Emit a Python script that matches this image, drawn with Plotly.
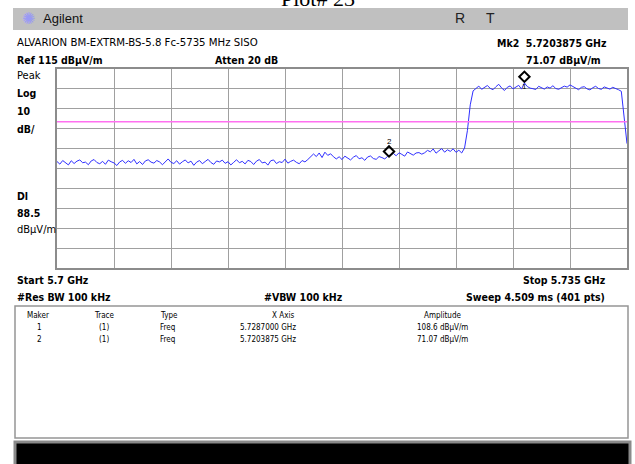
import numpy as np
import plotly.graph_objects as go

# ---------------- data ----------------
start_ghz = 5.700
stop_ghz = 5.735
ref_level = 115.0          # dBuV/m (top of screen)
db_per_div = 10.0
display_line = 88.5        # dBuV/m

level_dbuv = [
    68.5, 67.2, 69.0, 68.1, 66.8, 68.9, 67.5, 68.7, 69.3, 67.9,
    68.2, 66.9, 68.8, 69.5, 68.0, 67.4, 68.6, 67.1, 69.2, 68.4,
    67.8, 66.5, 68.3, 69.1, 67.6, 68.9, 68.0, 69.6, 67.3, 68.5,
    67.0, 68.8, 69.4, 68.2, 67.7, 69.0, 68.3, 66.9, 68.6, 69.8,
    68.1, 67.5, 68.9, 67.2, 68.4, 69.3, 67.8, 68.7, 66.6, 68.2,
    69.0, 67.4, 68.5, 69.6, 68.0, 67.1, 68.8, 68.3, 69.2, 67.6,
    68.4, 66.8, 68.1, 69.4, 67.9, 68.6, 67.3, 69.1, 68.5, 67.0,
    68.7, 69.5, 67.8, 68.2, 66.7, 68.9, 69.3, 67.5, 68.4, 68.0,
    69.7, 67.7, 68.6, 69.2, 68.1, 67.4, 69.0, 68.3, 69.5,
    70.8, 72.3, 71.0, 72.8, 70.5, 73.2, 71.6, 72.4, 70.9,
    69.8, 70.9, 69.5, 71.2, 70.1, 69.3, 70.7, 71.5, 69.9, 70.4,
    69.1, 70.8, 71.3, 70.0, 69.6, 71.0, 70.5, 69.8, 71.1,
    71.8, 72.6, 71.4, 72.9, 72.1, 71.2, 73.3, 72.4, 71.7, 72.8, 73.0, 72.2,
    72.9, 74.1, 73.4, 74.8, 72.7, 73.9, 75.0, 73.2, 74.4, 73.6, 74.9, 73.1, 74.2, 72.8, 75.3,
    84.0, 97.0, 104.0,
    105.2, 106.4, 104.8, 105.9, 106.7, 105.3, 104.6, 106.1, 107.3, 105.5,
    104.2, 105.8, 106.5, 105.0, 105.9, 106.8, 104.9, 108.0, 106.2, 105.4,
    105.1, 104.7, 106.3, 105.6, 104.9, 106.0, 105.4, 106.6, 105.2, 104.8,
    105.7, 106.4, 105.9, 107.0, 106.2, 105.3, 104.6, 105.8, 106.1, 105.0,
    104.5, 105.6, 106.3, 105.2, 104.8, 106.0, 105.5, 104.9, 105.8, 105.3,
    104.6, 103.8,
    92.0, 77.5,
]

marker_ids = ["1", "2"]
marker_trace = ["(1)", "(1)"]
marker_type = ["Freq", "Freq"]
marker_freq_ghz = [5.7287000, 5.7203875]
marker_freq_text = ["5.7287000 GHz", "5.7203875 GHz"]
marker_level = [108.6, 71.07]
marker_level_text = ["108.6 dBµV/m", "71.07 dBµV/m"]

# sweep grid (frequency of each trace point)
freq_ghz = np.linspace(start_ghz, stop_ghz, len(level_dbuv))

# ---------------- layout helpers ----------------
W, H = 635, 464
NARROW = "Liberation Sans Narrow, Arial Narrow, DejaVu Sans Condensed, sans-serif"
SANS = "Liberation Sans, Arial, sans-serif"

def px(x):
    return x / W

def py(y):
    return 1 - y / H

annotations = []

def txt(s, x, y, size=11, bold=False, anchor="left", family=NARROW, color="black", yanchor="middle"):
    annotations.append(dict(
        text=f"<b>{s}</b>" if bold else s,
        x=px(x), y=py(y), xref="paper", yref="paper",
        xanchor=anchor, yanchor=yanchor, showarrow=False,
        font=dict(family=family, size=size, color=color),
    ))

fig = go.Figure()

fig.add_trace(go.Scatter(
    x=freq_ghz, y=level_dbuv, mode="lines",
    line=dict(color="#2f2fff", width=1), hoverinfo="skip",
))

MARKER_OFFSET_DB = 2.5
fig.add_trace(go.Scatter(
    x=marker_freq_ghz, y=[v + MARKER_OFFSET_DB for v in marker_level],
    mode="markers",
    marker=dict(symbol="diamond-open", size=8, color="black", line=dict(width=2, color="black")),
    hoverinfo="skip",
))

# marker number labels
annotations.append(dict(text=marker_ids[0], x=marker_freq_ghz[0], y=marker_level[0] + MARKER_OFFSET_DB,
                        xref="x", yref="y", showarrow=False, yshift=-10,
                        font=dict(family=SANS, size=8, color="black")))
annotations.append(dict(text=marker_ids[1], x=marker_freq_ghz[1], y=marker_level[1] + MARKER_OFFSET_DB,
                        xref="x", yref="y", showarrow=False, yshift=10,
                        font=dict(family=SANS, size=8, color="black")))

shapes = []
# display line
shapes.append(dict(type="line", xref="x", yref="y", x0=start_ghz, x1=stop_ghz,
                   y0=display_line, y1=display_line, line=dict(color="#ff70f0", width=1.5)))
# header bar
shapes.append(dict(type="rect", xref="paper", yref="paper", x0=px(13), x1=px(628), y0=py(30), y1=py(8),
                   fillcolor="#c0c0c0", line=dict(width=0), layer="below"))
# table box
shapes.append(dict(type="rect", xref="paper", yref="paper", x0=px(15), x1=px(628), y0=py(438), y1=py(306),
                   fillcolor="rgba(0,0,0,0)", line=dict(color="#959595", width=1.5)))
# bottom black bar
shapes.append(dict(type="rect", xref="paper", yref="paper", x0=px(15), x1=px(630), y0=py(470), y1=py(442),
                   fillcolor="black", line=dict(color="#8a8a8a", width=3)))

# title (cut off at the top, as in the reference)
txt("Plot# 23", 318, 13, size=22, family="Liberation Serif, Times New Roman, serif", anchor="center", yanchor="bottom")

# header bar content
txt("✺", 28, 18, size=16, family="DejaVu Sans, sans-serif", anchor="center", color="#9a9af5")
txt("Agilent", 41, 18, size=13, family=SANS, color="#111")
txt("R", 460, 18, size=14, family=SANS, anchor="center", color="#222")
txt("T", 490, 18, size=14, family=SANS, anchor="center", color="#222")

BS = 10.5
txt("ALVARION BM-EXTRM-BS-5.8 Fc-5735 MHz SISO", 15, 43, size=11.3)
txt(f"Mk2  {marker_freq_text[1]}", 609, 43, size=BS, bold=True, anchor="right")
txt(f"Ref {ref_level:.0f} dBµV/m", 15, 60, size=BS, bold=True)
txt("Atten 20 dB", 213, 60, size=BS, bold=True)
txt(marker_level_text[1], 603, 60, size=BS, bold=True, anchor="right")

# left side labels
txt("Peak", 15, 76, size=11)
txt("Log", 15, 93, size=BS, bold=True)
txt(f"{db_per_div:.0f}", 15, 111, size=BS, bold=True)
txt("dB/", 15, 129, size=BS, bold=True)
txt("Dl", 15, 196, size=BS, bold=True)
txt(f"{display_line}", 15, 213, size=BS, bold=True)
txt("dBµV/m", 15, 229, size=11)

# bottom labels
txt(f"Start {start_ghz:g} GHz", 15, 280, size=BS, bold=True)
txt(f"Stop {stop_ghz:g} GHz", 608, 280, size=BS, bold=True, anchor="right")
txt("#Res BW 100 kHz", 15, 297, size=BS, bold=True)
txt("#VBW 100 kHz", 262, 297, size=BS, bold=True)
txt(f"Sweep 4.509 ms ({len(level_dbuv) * 2 - 1} pts)", 607, 297, size=BS, bold=True, anchor="right")

# marker table
tsize = 8
txt("Maker", 38, 315, size=tsize, anchor="center")
txt("Trace", 104, 315, size=tsize, anchor="center")
txt("Type", 158, 315, size=tsize)
txt("X Axis", 283, 315, size=tsize, anchor="center")
txt("Amplitude", 442, 315, size=tsize, anchor="center")
for i, yrow in enumerate([327, 339]):
    txt(marker_ids[i], 39, yrow, size=tsize, anchor="center")
    txt(marker_trace[i], 104, yrow, size=tsize, anchor="center")
    txt(marker_type[i], 158, yrow, size=tsize)
    txt(marker_freq_text[i], 268, yrow, size=tsize, anchor="center")
    txt(marker_level_text[i], 442, yrow, size=tsize, anchor="center")

n_div = 10
fig.update_layout(
    width=W, height=H,
    margin=dict(l=0, r=0, t=0, b=0),
    paper_bgcolor="white", plot_bgcolor="white",
    showlegend=False,
    shapes=shapes, annotations=annotations,
    xaxis=dict(domain=[px(57), px(627)], range=[start_ghz, stop_ghz],
               tick0=start_ghz, dtick=(stop_ghz - start_ghz) / n_div,
               showticklabels=False, ticks="", showgrid=True, gridcolor="#a0a0a0", gridwidth=1.2,
               zeroline=False, showline=True, linecolor="#8c8c8c", linewidth=2, mirror=True,
               fixedrange=True),
    yaxis=dict(domain=[py(268), py(69)], range=[ref_level - n_div * db_per_div, ref_level],
               tick0=ref_level, dtick=db_per_div,
               showticklabels=False, ticks="", showgrid=True, gridcolor="#a0a0a0", gridwidth=1.2,
               zeroline=False, showline=True, linecolor="#8c8c8c", linewidth=2, mirror=True,
               fixedrange=True),
)

fig.write_html("out.html", config={"displayModeBar": False},
               post_script="document.body.style.margin='0';document.body.style.overflow='hidden';")
